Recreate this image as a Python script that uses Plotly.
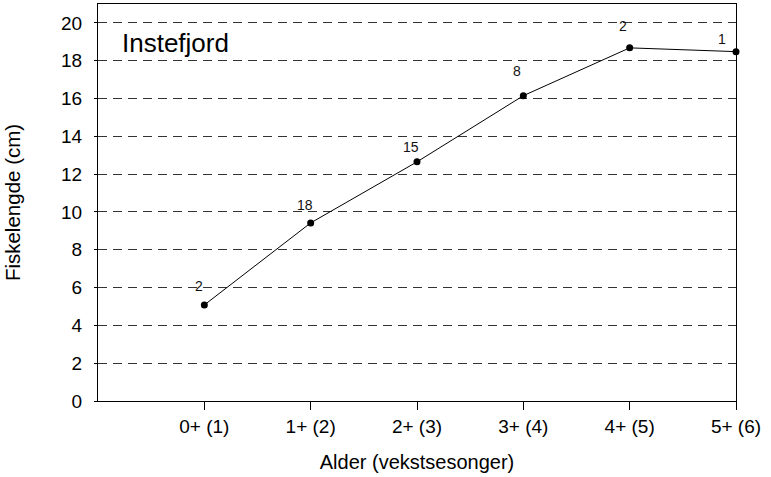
import plotly.graph_objects as go

# Mean fish length by age (growth seasons), with sample size per age group
age_labels = ["0+ (1)", "1+ (2)", "2+ (3)", "3+ (4)", "4+ (5)", "5+ (6)"]
age_pos = [1, 2, 3, 4, 5, 6]
length_cm = [5.08, 9.42, 12.65, 16.15, 18.68, 18.48]
n_fish = [2, 18, 15, 8, 2, 1]
y_ticks = [0, 2, 4, 6, 8, 10, 12, 14, 16, 18, 20]

FONT = "Liberation Sans, Arial, sans-serif"

fig = go.Figure()

fig.add_trace(go.Scatter(
    x=age_pos, y=length_cm,
    mode="lines+markers",
    line=dict(color="black", width=1),
    marker=dict(color="black", size=7),
    cliponaxis=False,
    showlegend=False,
))

# sample-size labels, nudged (in px) above-left of each point
label_nudge = [(-5, 19), (-6, 18), (-6, 15), (-6, 25), (-7, 22), (-14, 13)]
for xp, yp, n, (dx, dy) in zip(age_pos, length_cm, n_fish, label_nudge):
    fig.add_annotation(
        x=xp, y=yp, text=str(n), showarrow=False,
        xshift=dx, yshift=dy,
        font=dict(family=FONT, size=14, color="#111"),
    )

fig.add_annotation(
    x=0, y=1, xref="paper", yref="paper",
    text="Instefjord", showarrow=False,
    xanchor="left", yanchor="top", xshift=22, yshift=-22,
    font=dict(family=FONT, size=26, color="black"),
)

fig.update_xaxes(
    range=[0, 6], tickvals=age_pos, ticktext=age_labels,
    showgrid=False, zeroline=False,
    showline=True, linecolor="black", linewidth=1, mirror=True,
    ticks="outside", ticklen=8, tickcolor="black",
    tickfont=dict(family=FONT, size=19, color="black"),
    title=dict(text="Alder (vekstsesonger)", standoff=19,
               font=dict(family=FONT, size=20, color="black")),
)
fig.update_yaxes(
    range=[0, 21], tickvals=y_ticks,
    showgrid=True, gridcolor="#333", griddash="9px,6px", gridwidth=1,
    zeroline=False,
    showline=True, linecolor="black", linewidth=1, mirror=True,
    ticks="outside", ticklen=3, tickcolor="black", ticklabelstandoff=8,
    tickfont=dict(family=FONT, size=19, color="black"),
    title=dict(text="Fiskelengde (cm)", standoff=34,
               font=dict(family=FONT, size=20.5, color="black")),
)

fig.update_layout(
    width=771, height=477,
    margin=dict(l=98, r=35, t=4, b=76),
    paper_bgcolor="white", plot_bgcolor="white",
)

fig.write_html("out.html")
